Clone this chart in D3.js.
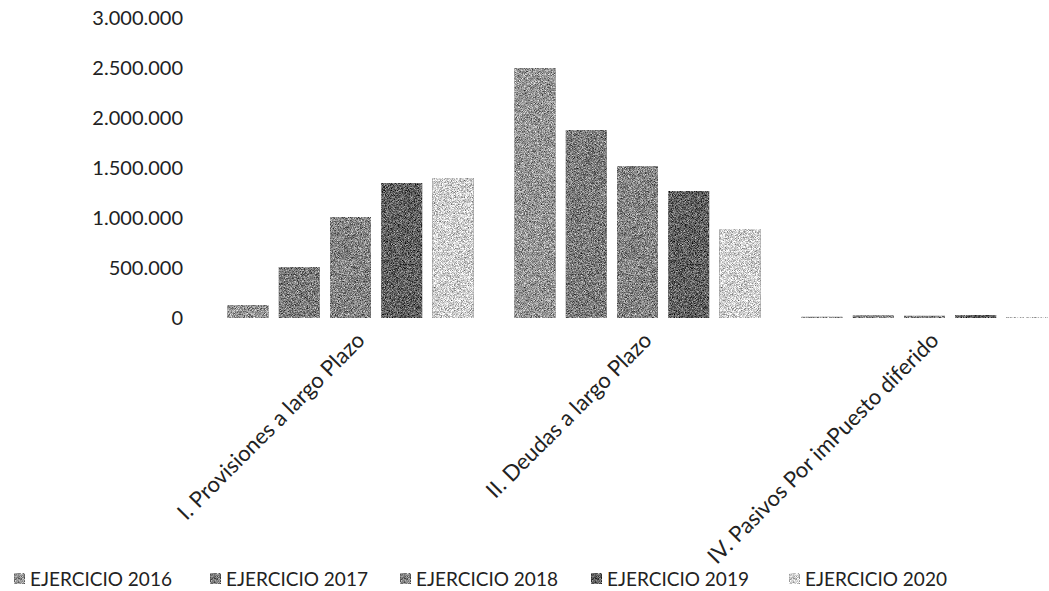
<!DOCTYPE html>
<html>
<head>
<meta charset="utf-8">
<script src="https://cdn.jsdelivr.net/npm/d3@7"></script>
<style>
  html, body { margin: 0; padding: 0; background: #fff; }
  svg { display: block; }
  text { font-family: Lato, "Open Sans", sans-serif; fill: #222; }
</style>
</head>
<body>
<svg id="chart" width="1049" height="591"></svg>
<script>
// Pasivo no corriente por ejercicio (euros)
const categories = [
  "I. Provisiones a largo Plazo",
  "II. Deudas a largo Plazo",
  "IV. Pasivos Por imPuesto diferido"
];
const seriesNames = ["EJERCICIO 2016", "EJERCICIO 2017", "EJERCICIO 2018", "EJERCICIO 2019", "EJERCICIO 2020"];
const ejercicio2016 = [130000, 2500000, 12000];
const ejercicio2017 = [510000, 1880000, 25000];
const ejercicio2018 = [1010000, 1520000, 22000];
const ejercicio2019 = [1350000, 1270000, 30000];
const ejercicio2020 = [1400000, 890000, 10000];
const yTicks = [0, 500000, 1000000, 1500000, 2000000, 2500000, 3000000];

const seriesValues = [ejercicio2016, ejercicio2017, ejercicio2018, ejercicio2019, ejercicio2020];
const colors = ["#959595", "#7c7c7c", "#848484", "#606060", "#d0d0d0"];

const svg = d3.select("#chart");

// Grain texture for the bars
const defs = svg.append("defs");
const f = defs.append("filter").attr("id", "grain")
  .attr("x", 0).attr("y", 0).attr("width", 1).attr("height", 1)
  .attr("color-interpolation-filters", "sRGB");
f.append("feTurbulence").attr("type", "fractalNoise")
  .attr("baseFrequency", 1.3).attr("numOctaves", 2).attr("seed", 7).attr("result", "noise");
f.append("feColorMatrix").attr("in", "noise").attr("type", "matrix")
  .attr("values", "1 0 0 0 0  1 0 0 0 0  1 0 0 0 0  0 0 0 0 1").attr("result", "gnoise");
f.append("feComposite").attr("in", "SourceGraphic").attr("in2", "gnoise")
  .attr("operator", "arithmetic").attr("k1", 0).attr("k2", 1).attr("k3", 1.2).attr("k4", -0.6)
  .attr("result", "mix");
f.append("feComposite").attr("in", "mix").attr("in2", "SourceAlpha").attr("operator", "in");

const y = d3.scaleLinear().domain([0, 3000000]).range([318, 18]);
const x0 = d3.scaleBand().domain(categories).range([207, 1068]).padding(0);
const x1 = d3.scaleBand().domain(seriesNames).range([0, x0.bandwidth()])
  .paddingInner(0.2).paddingOuter(0.4);

const fmt = v => d3.format(",")(v).replace(/,/g, ".");

// Y axis (labels only)
const yAxis = svg.append("g")
  .attr("transform", "translate(183,0)")
  .call(d3.axisLeft(y).tickValues(yTicks).tickFormat(fmt).tickSize(0).tickPadding(0));
yAxis.select(".domain").remove();
yAxis.selectAll("text").style("font-family", "Lato, 'Open Sans', sans-serif")
  .style("font-size", "20px").attr("fill", "#222");

// Bars
const groups = svg.append("g").selectAll("g")
  .data(categories)
  .join("g")
  .attr("transform", d => `translate(${x0(d)},0)`);

groups.selectAll("rect")
  .data((d, i) => seriesNames.map((s, j) => ({ s, v: seriesValues[j][i], j })))
  .join("rect")
  .attr("x", d => x1(d.s))
  .attr("width", x1.bandwidth())
  .attr("y", d => y(d.v))
  .attr("height", d => y(0) - y(d.v))
  .attr("fill", d => colors[d.j])
  .attr("filter", "url(#grain)");

// Category labels, rotated
svg.append("g").selectAll("text")
  .data(categories)
  .join("text")
  .attr("transform", d => `translate(${x0(d) + x0.bandwidth() / 2 + 4},330) rotate(-45)`)
  .attr("text-anchor", "end")
  .attr("dy", "0.75em")
  .style("font-size", "22px")
  .text(d => d);

// Legend
const legendX = [14, 210, 400, 591, 789];
const legend = svg.append("g").selectAll("g")
  .data(seriesNames)
  .join("g")
  .attr("transform", (d, i) => `translate(${legendX[i]},573)`);
legend.append("rect")
  .attr("width", 11).attr("height", 11)
  .attr("fill", (d, i) => colors[i])
  .attr("filter", "url(#grain)");
legend.append("text")
  .attr("x", 16).attr("y", 6).attr("dy", "0.35em")
  .style("font-size", "19px")
  .text(d => d);
</script>
</body>
</html>
